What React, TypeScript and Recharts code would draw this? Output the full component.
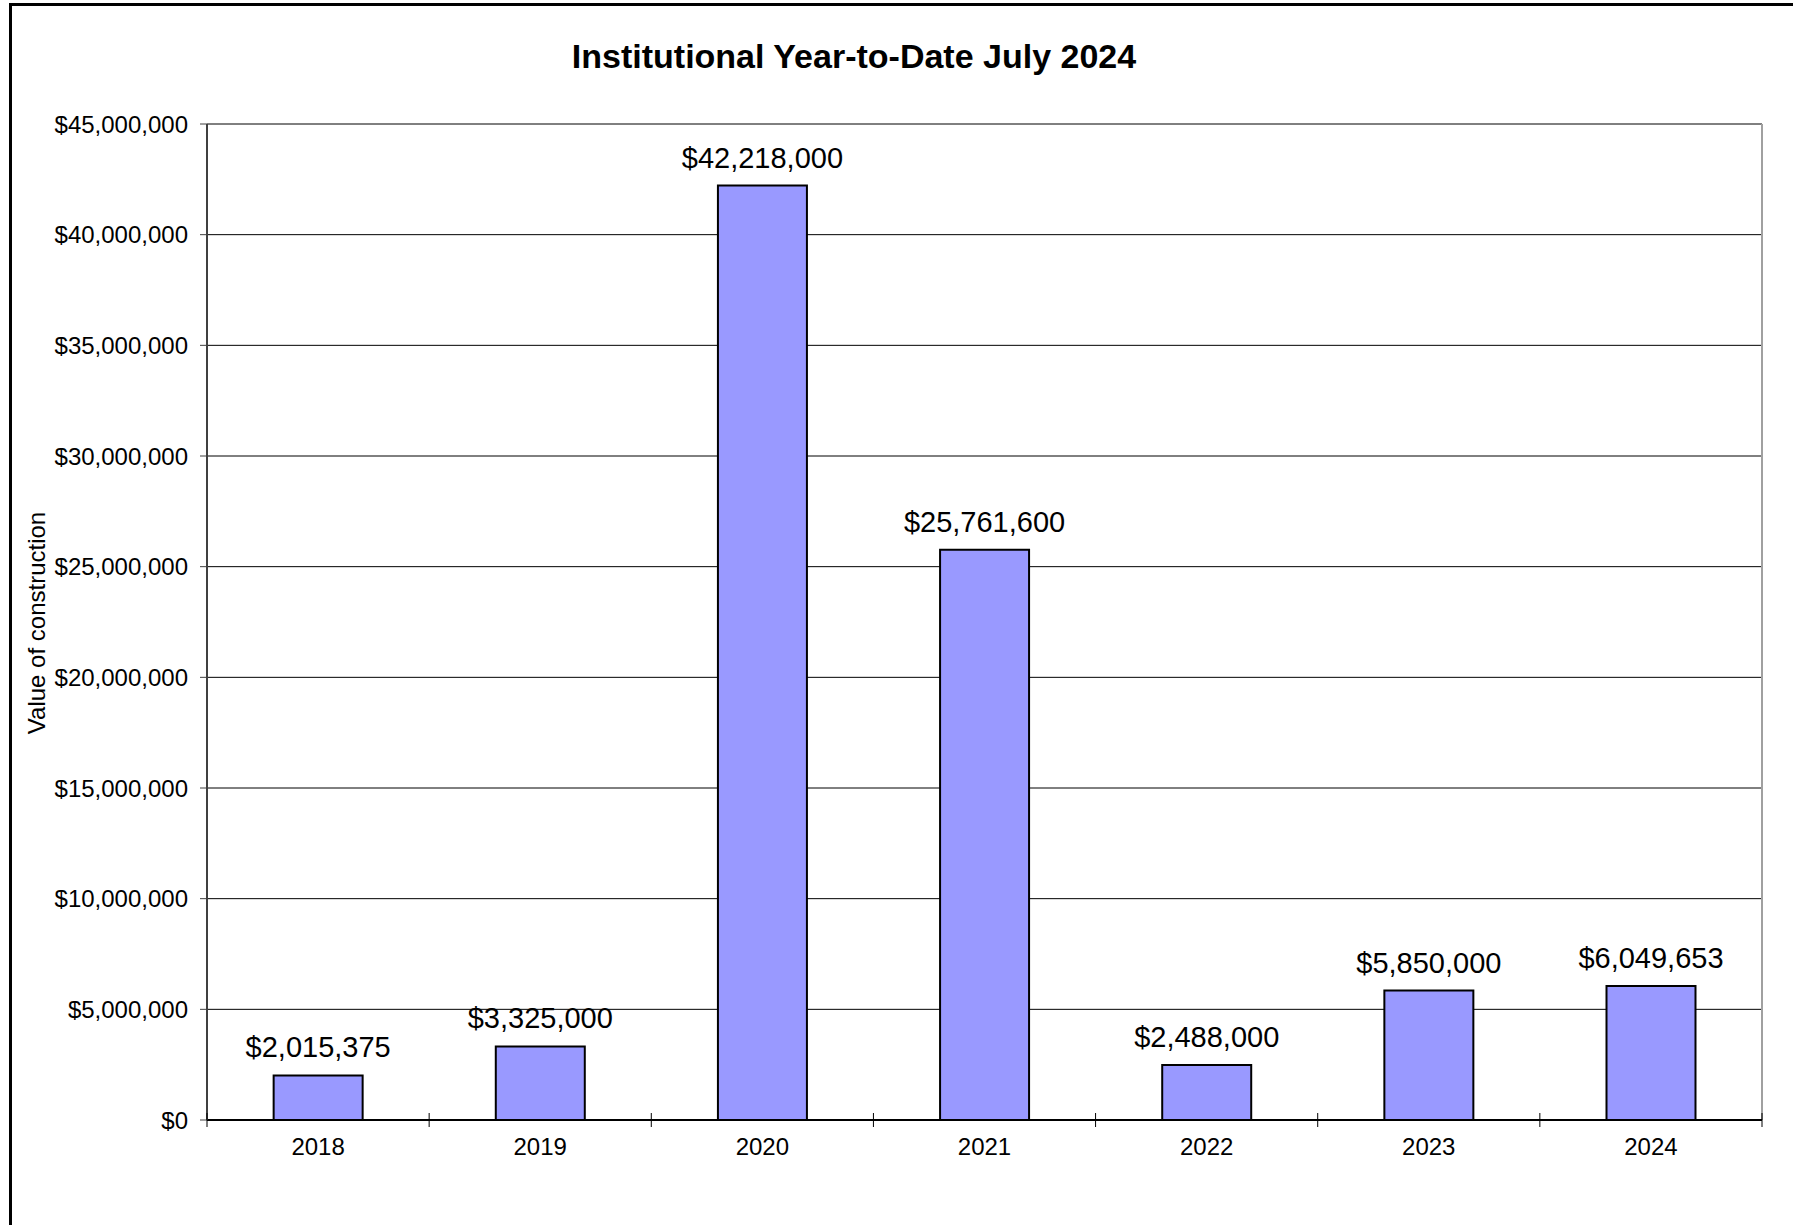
import { Bar, BarChart, CartesianGrid, LabelList, ReferenceLine, XAxis, YAxis } from "recharts";

const years = ["2018", "2019", "2020", "2021", "2022", "2023", "2024"];
const values = [2015375, 3325000, 42218000, 25761600, 2488000, 5850000, 6049653];
const yTicks = [0, 5000000, 10000000, 15000000, 20000000, 25000000, 30000000, 35000000, 40000000, 45000000];

const title = "Institutional Year-to-Date July 2024";
const yLabel = "Value of construction";

const chartData = years.map((year, i) => ({ year, value: values[i] }));

const money = (v: number | string) => "$" + Number(v).toLocaleString("en-US");
const font = '"Liberation Sans", Arial, sans-serif';

// Excel puts the category tick marks on the band edges, crossing the axis
function YearTick(props: any): JSX.Element {
  const { x, y, payload, index, visibleTicksCount } = props;
  const half = payload.offset || 111;
  const last = index === visibleTicksCount - 1;
  return (
    <g>
      <line x1={x - half} x2={x - half} y1={y - 7} y2={y + 7} stroke="#000" />
      {last && <line x1={x + half} x2={x + half} y1={y - 7} y2={y + 7} stroke="#000" />}
      <text x={x} y={y + 18} dy="0.71em" textAnchor="middle" fontSize={24} fill="#000">
        {payload.value}
      </text>
    </g>
  );
}

export default function App(): JSX.Element {
  return (
    <div
      style={{
        position: "absolute",
        left: 0,
        top: 0,
        width: 1793,
        height: 1225,
        overflow: "hidden",
        background: "#ffffff",
        fontFamily: font,
      }}
    >
      <div
        style={{
          position: "absolute",
          left: 9,
          top: 3,
          width: 1900,
          height: 1300,
          borderLeft: "3px solid #000",
          borderTop: "3px solid #000",
        }}
      />
      <BarChart
        width={1793}
        height={1225}
        data={chartData}
        margin={{ top: 124, right: 31, bottom: 0, left: 0 }}
        barCategoryGap="30%"
        style={{ position: "absolute", left: 0, top: 0, fontFamily: font }}
      >
        <CartesianGrid vertical={false} stroke="#000" strokeWidth={1} />
        <XAxis
          dataKey="year"
          interval={0}
          axisLine={{ stroke: "#000", strokeWidth: 2 }}
          tickLine={false}
          tickSize={0}
          tickMargin={0}
          height={105}
          tick={<YearTick />}
        />
        <YAxis
          width={207}
          domain={[0, 45000000]}
          ticks={yTicks}
          interval={0}
          tickFormatter={money}
          tickSize={7}
          tickMargin={12}
          axisLine={{ stroke: "#404040", strokeWidth: 2 }}
          tickLine={{ stroke: "#404040" }}
          tick={{ fill: "#000", fontSize: 24 }}
        />
        <ReferenceLine x="2024" position="end" stroke="#a0a0a0" strokeWidth={2} />
        <Bar dataKey="value" fill="#9999FF" stroke="#000" strokeWidth={2} isAnimationActive={false}>
          <LabelList dataKey="value" position="top" offset={18} formatter={money} fill="#000" fontSize={29} />
        </Bar>
      </BarChart>
      <svg
        width={1793}
        height={1225}
        style={{ position: "absolute", left: 0, top: 0, pointerEvents: "none", fontFamily: font }}
      >
        <text x={854} y={68} textAnchor="middle" fontSize={34} fontWeight="bold" fill="#000">
          {title}
        </text>
        <text transform="translate(45,623) rotate(-90)" textAnchor="middle" fontSize={24} fill="#000">
          {yLabel}
        </text>
      </svg>
    </div>
  );
}
